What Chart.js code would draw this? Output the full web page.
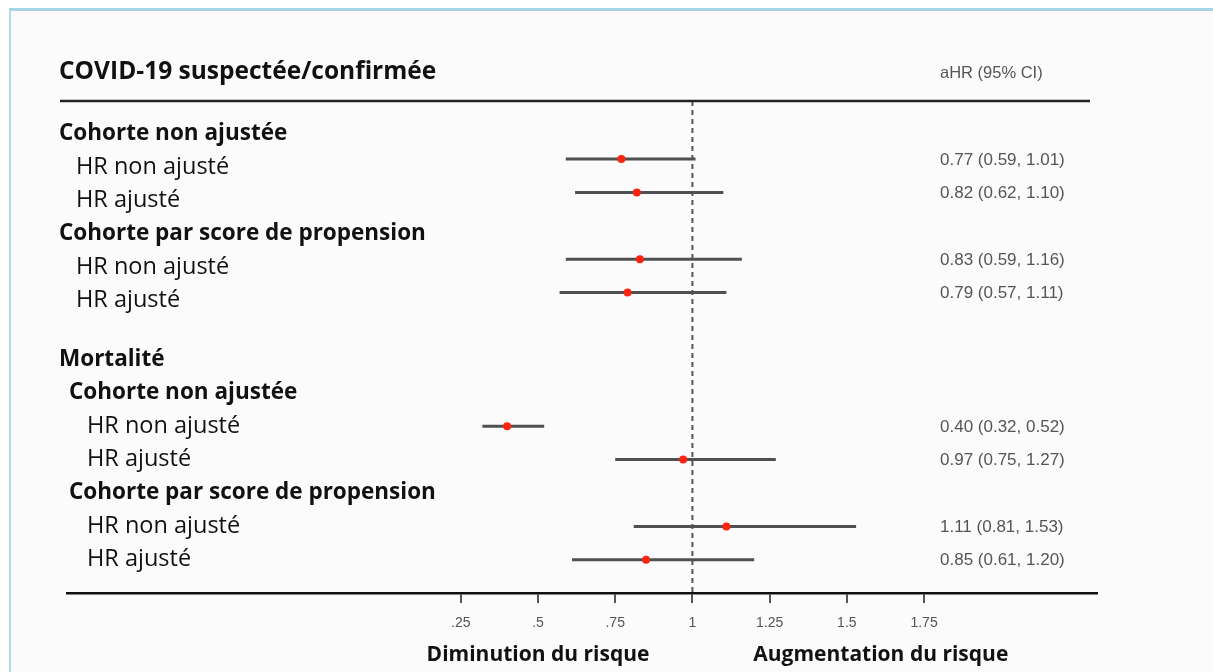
<!DOCTYPE html>
<html>
<head>
<meta charset="utf-8">
<script src="https://cdn.jsdelivr.net/npm/chart.js@4/dist/chart.umd.min.js"></script>
<style>
  body { margin: 0; background: #fff; }
  #frame {
    position: absolute; left: 9px; top: 8px; width: 1204px; height: 664px;
    border-left: 2px solid #b3d9ea; border-top: 3px solid #a9d3e6;
    background: #fbfbfb;
  }
  #forest { position: absolute; left: 0; top: 0; }
</style>
</head>
<body>
<div id="frame"></div>
<canvas id="forest" width="1213" height="672"></canvas>
<script>
// labels on the left (one per row)
const rowLabels = ['Cohorte non ajustée', 'HR non ajusté', 'HR ajusté',
  'Cohorte par score de propension', 'HR non ajusté', 'HR ajusté',
  'Mortalité', 'Cohorte non ajustée', 'HR non ajusté', 'HR ajusté',
  'Cohorte par score de propension', 'HR non ajusté', 'HR ajusté'];
const rowKind = ['h0', 's1', 's1', 'h0', 's1', 's1', 'h0', 'h1', 's2', 's2', 'h1', 's2', 's2'];
const rowIndex = [0, 1, 2, 3, 4, 5, 7, 8, 9, 10, 11, 12, 13];

// estimates
const estRow = [1, 2, 4, 5, 9, 10, 12, 13];
const hr = [0.77, 0.82, 0.83, 0.79, 0.40, 0.97, 1.11, 0.85];
const ciLow = [0.59, 0.62, 0.59, 0.57, 0.32, 0.75, 0.81, 0.61];
const ciHigh = [1.01, 1.10, 1.16, 1.11, 0.52, 1.27, 1.53, 1.20];
const hrText = ['0.77 (0.59, 1.01)', '0.82 (0.62, 1.10)', '0.83 (0.59, 1.16)', '0.79 (0.57, 1.11)',
  '0.40 (0.32, 0.52)', '0.97 (0.75, 1.27)', '1.11 (0.81, 1.53)', '0.85 (0.61, 1.20)'];

const xTicks = [0.25, 0.5, 0.75, 1, 1.25, 1.5, 1.75];

const calibri = '"Open Sans", "Noto Sans", sans-serif';
const arial = '"Liberation Sans", Arial, sans-serif';

// CI whiskers, one small line dataset each
const ciSets = hr.map((v, i) => ({
  data: [{x: ciLow[i], y: estRow[i]}, {x: ciHigh[i], y: estRow[i]}],
  showLine: true,
  borderColor: '#505050',
  borderWidth: 3,
  pointRadius: 0
}));

const pointSet = {
  data: hr.map((v, i) => ({x: v, y: estRow[i]})),
  pointRadius: 4,
  pointBackgroundColor: '#ff2410',
  pointBorderWidth: 0
};

const forestText = {
  id: 'forestText',
  beforeDatasetsDraw(chart) {
    const {ctx, chartArea, scales: {x}} = chart;
    const px = x.getPixelForValue(1);
    ctx.save();
    ctx.strokeStyle = '#555';
    ctx.lineWidth = 2;
    ctx.setLineDash([5, 4]);
    ctx.beginPath();
    ctx.moveTo(px, chartArea.top);
    ctx.lineTo(px, chartArea.bottom);
    ctx.stroke();
    ctx.restore();
  },
  afterDraw(chart) {
    const {ctx, chartArea, scales: {x, y}} = chart;
    ctx.save();
    // tick marks under the axis
    ctx.strokeStyle = '#555';
    ctx.lineWidth = 2;
    xTicks.forEach(v => {
      const px = Math.round(x.getPixelForValue(v));
      ctx.beginPath();
      ctx.moveTo(px, chartArea.bottom + 1);
      ctx.lineTo(px, chartArea.bottom + 10);
      ctx.stroke();
    });

    // header
    ctx.fillStyle = '#111';
    ctx.textBaseline = 'middle';
    ctx.font = 'bold 24.5px ' + calibri;
    ctx.fillText('COVID-19 suspectée/confirmée', 59, 72);
    ctx.fillStyle = '#555';
    ctx.font = '16.5px ' + arial;
    ctx.fillText('aHR (95% CI)', 940, 73);
    ctx.strokeStyle = '#222';
    ctx.lineWidth = 2.5;
    ctx.beginPath();
    ctx.moveTo(60, chartArea.top);
    ctx.lineTo(1090, chartArea.top);
    ctx.stroke();

    // row labels
    const kinds = {
      h0: {x: 59, bold: true},
      h1: {x: 69, bold: true},
      s1: {x: 76, bold: false},
      s2: {x: 87, bold: false}
    };
    ctx.fillStyle = '#111';
    rowLabels.forEach((t, i) => {
      const k = kinds[rowKind[i]];
      ctx.font = (k.bold ? 'bold 22.5px ' : '23.5px ') + calibri;
      const shift = rowIndex[i] < 6 ? 8 : 0;
      ctx.fillText(t, k.x, y.getPixelForValue(rowIndex[i]) + shift);
    });

    // hr (ci) column
    ctx.fillStyle = '#555';
    ctx.font = '17px ' + arial;
    hrText.forEach((t, i) => {
      ctx.fillText(t, 940, y.getPixelForValue(estRow[i]) + 1);
    });

    // bottom captions
    ctx.fillStyle = '#111';
    ctx.textAlign = 'center';
    ctx.font = 'bold 21px ' + calibri;
    ctx.fillText('Diminution du risque', x.getPixelForValue(0.5), 655);
    ctx.fillText('Augmentation du risque', x.getPixelForValue(1.61), 655);
    ctx.restore();
  }
};

new Chart(document.getElementById('forest'), {
  type: 'scatter',
  data: { datasets: [pointSet, ...ciSets] },
  options: {
    responsive: false,
    animation: false,
    layout: { padding: { left: 67, right: 116, top: 101, bottom: 0 } },
    plugins: { legend: { display: false }, tooltip: { enabled: false } },
    scales: {
      x: {
        type: 'linear',
        min: -1.025,
        max: 2.31,
        afterBuildTicks: scale => { scale.ticks = xTicks.map(v => ({value: v})); },
        afterFit: scale => { scale.height = 79; },
        grid: { display: false },
        border: { display: true, color: '#111', width: 2.5 },
        ticks: {
          padding: 14,
          color: '#555',
          font: { family: arial, size: 14 },
          maxRotation: 0,
          callback: v => (v < 1 ? String(v).replace(/^0/, '') : String(v))
        }
      },
      y: {
        type: 'linear',
        reverse: true,
        min: -0.737,
        max: 13.994,
        display: false
      }
    }
  },
  plugins: [forestText]
});
</script>
</body>
</html>
